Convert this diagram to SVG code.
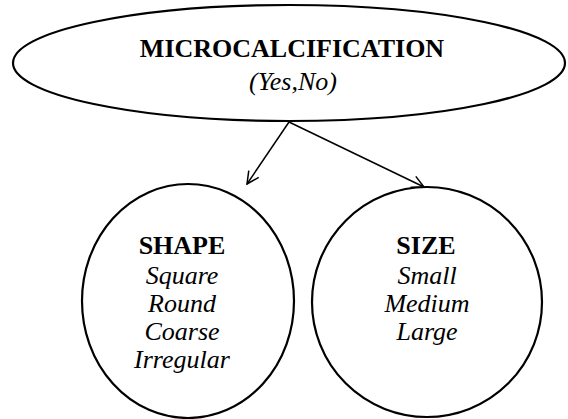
<svg xmlns="http://www.w3.org/2000/svg" width="568" height="419" viewBox="0 0 568 419">
  <style>
    .shape { fill: #fff; stroke: #000; stroke-width: 2.2; }
    .edge { fill: none; stroke: #000; stroke-width: 1.5; }
    .title { font-family: "Liberation Serif", "Times New Roman", serif; font-weight: bold; font-size: 26px; text-anchor: middle; fill: #000; }
    .item { font-family: "Liberation Serif", "Times New Roman", serif; font-style: italic; font-size: 26px; text-anchor: middle; fill: #000; }
  </style>
  <defs>
    <marker id="arrow" viewBox="0 0 14 14" refX="13" refY="7" markerWidth="14" markerHeight="14" markerUnits="userSpaceOnUse" orient="auto">
      <path d="M1,1 L13,7 L1,13" fill="none" stroke="#000" stroke-width="1.5"/>
    </marker>
  </defs>
  <rect width="568" height="419" fill="#fff"/>

  <g id="connectors">
    <line class="edge" x1="289" y1="122" x2="247" y2="184" marker-end="url(#arrow)"/>
    <line class="edge" x1="289" y1="122" x2="424" y2="187" marker-end="url(#arrow)"/>
  </g>

  <g id="microcalcification">
    <ellipse class="shape" cx="289" cy="63" rx="276" ry="58"/>
    <text class="title" x="292" y="57">MICROCALCIFICATION</text>
    <text class="item" x="293" y="90">(Yes,No)</text>
  </g>

  <g id="shape">
    <ellipse class="shape" cx="188" cy="301" rx="106" ry="117"/>
    <text class="title" x="182" y="254">SHAPE</text>
    <text class="item" x="182" y="284">Square</text>
    <text class="item" x="182" y="312">Round</text>
    <text class="item" x="182" y="340">Coarse</text>
    <text class="item" x="182" y="368">Irregular</text>
  </g>

  <g id="size">
    <ellipse class="shape" cx="427" cy="302" rx="115" ry="115"/>
    <text class="title" x="426" y="254">SIZE</text>
    <text class="item" x="427" y="284">Small</text>
    <text class="item" x="427" y="312">Medium</text>
    <text class="item" x="427" y="340">Large</text>
  </g>
</svg>
